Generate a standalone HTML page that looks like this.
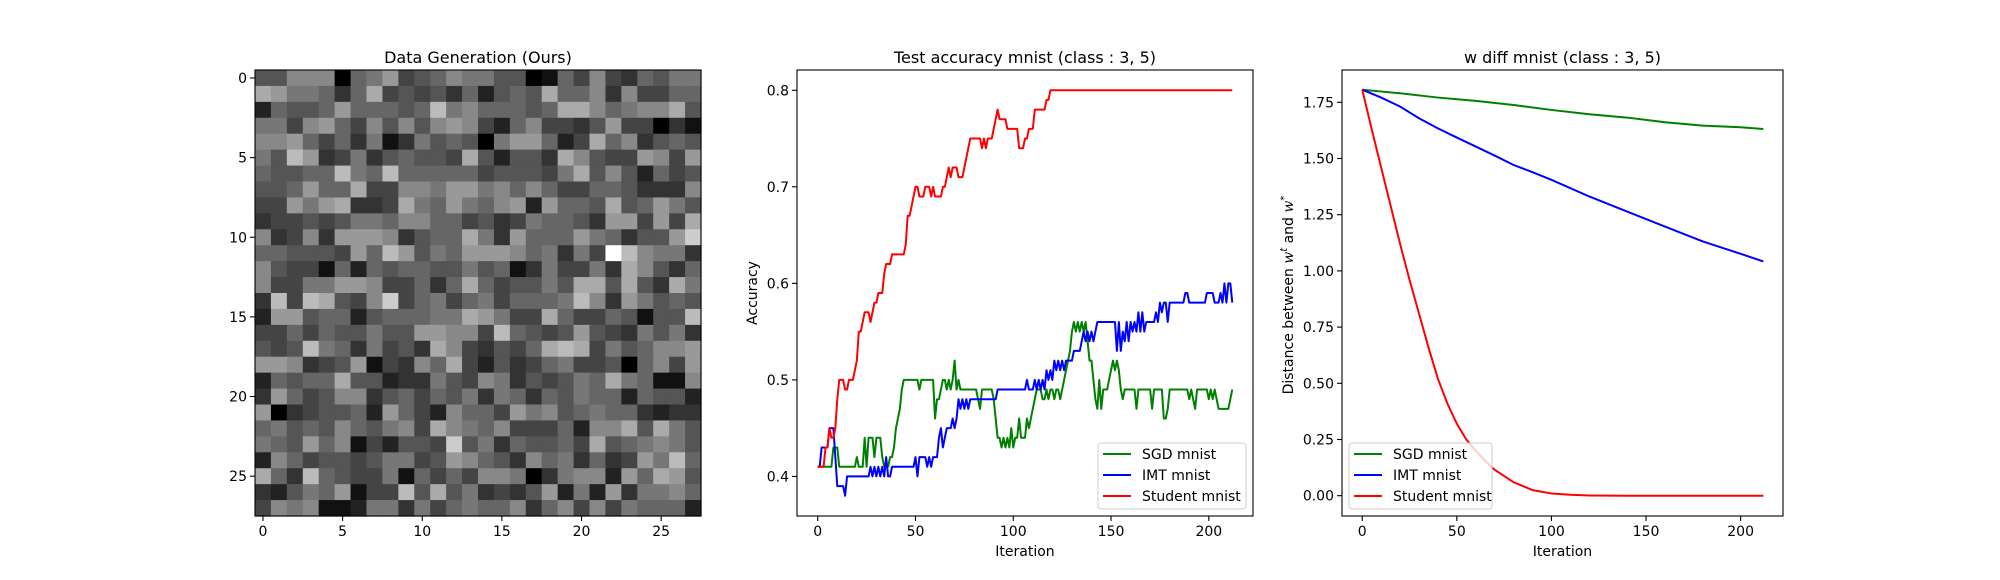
<!DOCTYPE html>
<html><head><meta charset="utf-8"><style>
html,body{margin:0;padding:0;background:#fff;}
svg{display:block;font-family:"DejaVu Sans","Liberation Sans",sans-serif;}
</style></head><body>
<svg id="fig" width="2000" height="580" viewBox="0 0 2000 580" xmlns="http://www.w3.org/2000/svg">
<rect width="2000" height="580" fill="#fff"/>
</svg>
<script>
// ---------- Heatmap data (gray level 0-f per cell, 28x28) ----------
const heatGrid = [
"55888067945687"+"75501648436577",
"a977636a454536"+"2565a668384466",
"26556966656b78"+"66656aa86788a5",
"77489648585898"+"42684435944031",
"88964637137565"+"0799624a683565",
"75b9347356554a"+"52553a85449849",
"65566b76b66666"+"455547a5852645",
"556966a4488799"+"78686446653338",
"44979a334a7697"+"68929665a56975",
"34454577688664"+"5347665399494a",
"8348399983566a"+"7396669763559c",
"66555496b95769"+"99867374fb8773",
"85441626566557"+"561374473a8536",
"8447799844636a"+"645575aa5a53a7",
"3b4ba548c46746"+"746667b8397565",
"2995662566677a"+"9744a64465155b",
"44646557559988"+"4b654595437573",
"545b7637453a84"+"3546aba4756889",
"998345914386a4"+"25346744506849",
"26566a55233754"+"87354576a76118",
"39645883564657"+"37636576626552",
"90345562964286"+"64978567663233",
"67565865784a87"+"684446288a5a75",
"765968142554c5"+"7365564a567875",
"28645545774598"+"653867363497b6",
"a63b6544716464"+"88703788296a95",
"325769144b5a57"+"34359272937786",
"48781127737467"+"66836848476662"
];
const heatTicks = [0,5,10,15,20,25];

// ---------- Accuracy chart data (percent) ----------
const accIter = Array.from({length:213},(_,i)=>i);
const studentAcc = [
41,41,41,41,43,43,45,44,44,45,
48,50,50,50,49,49,50,50,50,51,
52,55,55,56,57,57,57,56,57,58,
58,59,59,59,61,62,62,62,63,63,
63,63,63,63,63,64,67,67,68,69,
70,70,69,69,69,70,70,70,69,70,
69,69,69,69,70,70,71,72,71,72,
72,72,71,71,71,72,73,74,75,75,
75,75,75,75,74,75,74,75,75,75,
76,77,78,77,77,77,77,76,76,76,
76,76,76,74,74,74,75,75,76,76,
76,78,78,78,78,78,78,79,79,80,
80,80,80,80,80,80,80,80,80,80,
80,80,80,80,80,80,80,80,80,80,
80,80,80,80,80,80,80,80,80,80,
80,80,80,80,80,80,80,80,80,80,
80,80,80,80,80,80,80,80,80,80,
80,80,80,80,80,80,80,80,80,80,
80,80,80,80,80,80,80,80,80,80,
80,80,80,80,80,80,80,80,80,80,
80,80,80,80,80,80,80,80,80,80,
80,80,80];
const imtAcc = [
41,41,43,43,43,43,45,45,45,42,
39,39,39,39,38,40,40,40,40,40,
40,40,40,40,40,40,40,41,40,41,
40,41,40,41,40,42,40,40,41,41,
41,41,41,41,41,41,41,41,41,41,
42,40,42,42,42,42,41,42,41,42,
42,42,44,45,43,44,45,45,45,46,
45,46,48,47,48,47,48,47,48,48,
48,48,48,48,48,48,48,48,48,48,
48,48,49,49,49,49,49,49,49,49,
49,49,49,49,49,49,49,50,49,49,
49,50,49,50,49,50,49,51,50,51,
50,52,51,52,51,52,51,52,52,52,
52,53,53,53,53,54,55,54,55,54,
55,54,55,56,56,56,56,56,56,56,
56,56,56,53,56,53,55,54,56,54,
56,55,56,55,57,55,57,55,56,56,
56,56,56,57,56,58,57,58,58,56,
58,58,58,58,58,58,58,58,59,59,
58,58,58,58,58,58,58,58,58,59,
59,59,59,58,58,58,59,58,60,58,
60,60,58];
const sgdAcc = [
41,41,41,41,41,41,41,41,43,43,
43,41,41,41,41,41,41,41,41,41,
42,41,41,41,44,41,44,44,44,42,
44,44,44,42,41,41,41,42,42,43,
45,46,47,49,50,50,50,50,50,50,
50,50,49,50,50,50,50,50,50,50,
46,48,48,49,50,50,49,50,49,50,
52,49,50,49,49,49,49,49,49,49,
49,49,48,47,49,49,49,49,49,49,
48,46,44,44,43,44,43,44,43,45,
43,44,44,46,44,44,44,46,45,46,
47,48,49,49,49,48,48,49,48,49,
49,48,49,49,48,49,50,51,52,53,
55,56,55,56,55,56,55,56,54,52,
52,50,48,47,50,47,49,49,49,50,
51,52,51,52,51,49,48,49,49,49,
49,49,49,47,49,49,49,49,49,49,
49,47,49,49,49,49,49,46,46,47,
49,49,49,49,49,49,49,49,49,49,
48,49,48,47,49,49,49,49,49,49,
48,49,48,49,48,47,47,47,47,47,
47,48,49];
const accTicksX = [0,50,100,150,200];
const accTicksY = [0.4,0.5,0.6,0.7,0.8];

// ---------- Weight-distance chart data ----------
const sgdDistIter = [0,20,40,60,80,100,120,140,160,180,200,212];
const sgdDist = [1.806,1.790,1.771,1.756,1.738,1.716,1.697,1.682,1.661,1.646,1.639,1.631];
const imtDistIter = [0,10,20,30,40,50,60,70,80,90,100,120,140,160,180,200,212];
const imtDist = [1.806,1.771,1.731,1.679,1.634,1.593,1.553,1.513,1.471,1.439,1.405,1.331,1.264,1.197,1.131,1.076,1.042];
const stuDistIter = [0,5,10,15,20,25,30,35,40,45,50,55,60,65,70,80,90,100,110,120,140,212];
const stuDist = [1.806,1.63,1.46,1.29,1.12,0.96,0.81,0.66,0.52,0.41,0.32,0.25,0.20,0.155,0.115,0.06,0.025,0.01,0.004,0.001,0,0];
const distTicksX = [0,50,100,150,200];
const distTicksY = [0,0.25,0.5,0.75,1.0,1.25,1.5,1.75];
const distTickLabels = ["0.00","0.25","0.50","0.75","1.00","1.25","1.50","1.75"];
</script>
<script>
const NS = "http://www.w3.org/2000/svg";
const svg = document.getElementById('fig');
function mk(tag, attrs, parent){
  const e = document.createElementNS(NS, tag);
  for (const k in attrs) e.setAttribute(k, attrs[k]);
  (parent||svg).appendChild(e);
  return e;
}
function txt(s, x, y, anchor, size, parent){
  const t = mk('text', {x:x, y:y, 'text-anchor':anchor, 'font-size':size, fill:'#000'}, parent);
  t.textContent = s;
  return t;
}

// ================= Panel 1: heatmap =================
const H = {x0:255, y0:70, size:446, n:28};
const cell = H.size / H.n;
const g1 = mk('g', {});


for (let r = 0; r < H.n; r++){
  const row = heatGrid[r];
  for (let c = 0; c < H.n; c++){
    const d = parseInt(row[c], 16);
    const v = d * 17;
    const rc = mk('rect', {x:(H.x0 + c*cell).toFixed(2), y:(H.y0 + r*cell).toFixed(2), width:(cell+0.6).toFixed(2), height:(cell+0.6).toFixed(2), fill:`rgb(${v},${v},${v})`}, g1);
    
    
  }
}
const hb = mk('rect', {x:H.x0, y:H.y0, width:H.size, height:H.size, fill:'none', stroke:'#000', 'stroke-width':1.1}, g1);


heatTicks.forEach(t => {
  const p = H.x0 + (t + 0.5) * cell;
  mk('line', {x1:p, y1:H.y0+H.size, x2:p, y2:H.y0+H.size+5, stroke:'#000', 'stroke-width':1.1}, g1);
  const lx = txt(String(t), p, H.y0+H.size+20, 'middle', 14, g1);
  
  
  const q = H.y0 + (t + 0.5) * cell;
  mk('line', {x1:H.x0-5, y1:q, x2:H.x0, y2:q, stroke:'#000', 'stroke-width':1.1}, g1);
  const ly = txt(String(t), H.x0-8, q+5, 'end', 14, g1);
  
  
});
const t1 = txt('Data Generation (Ours)', H.x0 + H.size/2, 63, 'middle', 16, g1);



// ================= generic line panel =================
function linePanel(cfg){
  const g = mk('g', {});
  
  
  const sx = v => cfg.x0 + (v - cfg.xmin) / (cfg.xmax - cfg.xmin) * (cfg.x1 - cfg.x0);
  const sy = v => cfg.y1 - (v - cfg.ymin) / (cfg.ymax - cfg.ymin) * (cfg.y1 - cfg.y0);
  cfg.series.forEach(s => {
    const pts = s.x.map((xv,i) => sx(xv).toFixed(2) + ',' + sy(s.y[i]).toFixed(2)).join(' ');
    const pl = mk('polyline', {points:pts, fill:'none', stroke:s.color, 'stroke-width':2, 'stroke-linejoin':'round'}, g);
    
    
  });
  const fr = mk('rect', {x:cfg.x0, y:cfg.y0, width:cfg.x1-cfg.x0, height:cfg.y1-cfg.y0, fill:'none', stroke:'#000', 'stroke-width':1.1}, g);
  
  
  cfg.xticks.forEach(t => {
    const p = sx(t);
    mk('line', {x1:p, y1:cfg.y1, x2:p, y2:cfg.y1+5, stroke:'#000', 'stroke-width':1.1}, g);
    const l = txt(String(t), p, cfg.y1+20, 'middle', 14, g);
    
    
  });
  cfg.yticks.forEach((t,i) => {
    const q = sy(t);
    mk('line', {x1:cfg.x0-5, y1:q, x2:cfg.x0, y2:q, stroke:'#000', 'stroke-width':1.1}, g);
    const l = txt(cfg.ylabels[i], cfg.x0-8, q+5, 'end', 14, g);
    
    
  });
  const tt = txt(cfg.title, (cfg.x0+cfg.x1)/2, 63, 'middle', 16, g);
  
  
  const xl = txt('Iteration', (cfg.x0+cfg.x1)/2, 556, 'middle', 14, g);
  
  
  const L = cfg.legend;
  const lg = mk('g', {}, g);
  
  
  mk('rect', {x:L.x, y:L.y, width:L.w, height:66, rx:3, fill:'#fff', 'fill-opacity':0.8, stroke:'#ccc', 'stroke-width':1}, lg);
  cfg.series.forEach((s,i) => {
    const yy = L.y + 11 + i*21;
    mk('line', {x1:L.x+5, y1:yy, x2:L.x+33, y2:yy, stroke:s.color, 'stroke-width':2}, lg);
    const e = txt(s.label, L.x+44, yy+5, 'start', 14, lg);
    
    
  });
  return g;
}

// ================= Panel 2 =================
const g2 = linePanel({
  name:'accuracy-panel', x0:797, x1:1253, y0:70, y1:516,
  xmin:-10.6, xmax:222.6, ymin:0.359, ymax:0.821,
  xticks:accTicksX, yticks:accTicksY, ylabels:accTicksY.map(v=>v.toFixed(1)),
  title:'Test accuracy mnist (class : 3, 5)',
  legend:{x:1098, y:443, w:148},
  series:[
    {name:'sgd-accuracy-line', label:'SGD mnist', color:'#008000', x:accIter, y:sgdAcc.map(v=>v/100)},
    {name:'imt-accuracy-line', label:'IMT mnist', color:'#0000ff', x:accIter, y:imtAcc.map(v=>v/100)},
    {name:'student-accuracy-line', label:'Student mnist', color:'#ff0000', x:accIter, y:studentAcc.map(v=>v/100)}
  ]
});
const yl2 = mk('text', {x:0, y:0, 'text-anchor':'middle', 'font-size':14, transform:'translate(757,293) rotate(-90)'}, g2);
yl2.textContent = 'Accuracy';



// ================= Panel 3 =================
const g3 = linePanel({
  name:'weight-distance-panel', x0:1342, x1:1783, y0:70, y1:516,
  xmin:-10.7, xmax:222.4, ymin:-0.0903, ymax:1.8936,
  xticks:distTicksX, yticks:distTicksY, ylabels:distTickLabels,
  title:'w diff mnist (class : 3, 5)',
  legend:{x:1349, y:443, w:143},
  series:[
    {name:'sgd-distance-line', label:'SGD mnist', color:'#008000', x:sgdDistIter, y:sgdDist},
    {name:'imt-distance-line', label:'IMT mnist', color:'#0000ff', x:imtDistIter, y:imtDist},
    {name:'student-distance-line', label:'Student mnist', color:'#ff0000', x:stuDistIter, y:stuDist}
  ]
});
const yl3 = mk('text', {x:0, y:0, 'text-anchor':'middle', 'font-size':14, transform:'translate(1293,295) rotate(-90)'}, g3);


yl3.innerHTML = 'Distance between <tspan font-style="italic" font-family="DejaVu Serif, serif">w</tspan><tspan font-style="italic" font-size="10" dy="-6">t</tspan><tspan dy="6"> and </tspan><tspan font-style="italic" font-family="DejaVu Serif, serif">w</tspan><tspan font-size="10" dy="-6">*</tspan>';
</script>
</body></html>
